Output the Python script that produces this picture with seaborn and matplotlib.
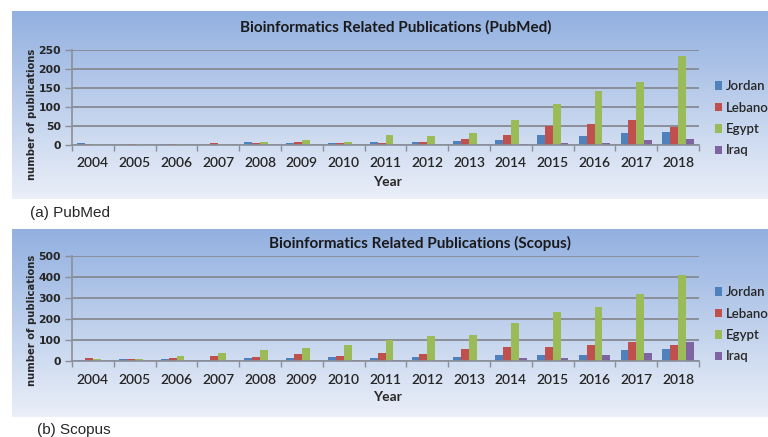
import numpy as np
import pandas as pd
import matplotlib
matplotlib.use("Agg")
import matplotlib.pyplot as plt
import seaborn as sns
from matplotlib.patches import Patch

years = [str(y) for y in range(2004, 2019)]
countries = ["Jordan", "Lebanon", "Egypt", "Iraq"]
colors = ["#4F81BD", "#C0504D", "#9BBB59", "#8064A2"]

pubmed_jordan = [5, 0, 3, 1, 8, 5, 4, 9, 8, 10, 13, 27, 24, 32, 35]
pubmed_lebanon = [3, 3, 3, 5, 4, 8, 4, 6, 8, 16, 27, 50, 55, 66, 48]
pubmed_egypt = [3, 3, 3, 2, 8, 13, 9, 26, 24, 32, 65, 108, 141, 166, 233]
pubmed_iraq = [0, 0, 0, 0, 0, 0, 0, 0, 0, 0, 3, 6, 6, 12, 17]

scopus_jordan = [6, 11, 8, 5, 14, 15, 20, 15, 20, 17, 29, 29, 29, 51, 55]
scopus_lebanon = [14, 11, 14, 22, 20, 34, 25, 37, 34, 55, 66, 68, 74, 92, 77]
scopus_egypt = [8, 11, 22, 37, 52, 63, 77, 100, 118, 123, 181, 232, 255, 317, 410]
scopus_iraq = [0, 0, 0, 0, 2, 2, 7, 7, 2, 2, 15, 16, 28, 37, 89]

pubmed_ticks = [0, 50, 100, 150, 200, 250]
scopus_ticks = [0, 100, 200, 300, 400, 500]


def long_df(series):
    rows = []
    for c, vals in zip(countries, series):
        for y, v in zip(years, vals):
            rows.append({"Year": y, "Country": c, "Count": v})
    return pd.DataFrame(rows)


df_pub = long_df([pubmed_jordan, pubmed_lebanon, pubmed_egypt, pubmed_iraq])
df_sco = long_df([scopus_jordan, scopus_lebanon, scopus_egypt, scopus_iraq])

sns.set_theme(style="white")
FONT = ["Lato", "DejaVu Sans"]
plt.rcParams["font.family"] = FONT

W, H = 768, 437
fig = plt.figure(figsize=(W / 100, H / 100), dpi=100)


def fx(px):
    return px / W


def fy(py):
    return 1 - py / H


# gradient backgrounds
grad = np.linspace(0, 1, 256)[:, None]
top_c = np.array([146, 176, 224]) / 255
bot_c = np.array([234, 239, 248]) / 255
img = top_c[None, None, :] * (1 - grad[:, :, None]) + bot_c[None, None, :] * grad[:, :, None]
img = np.repeat(img, 2, axis=1)

for top in (11, 229):
    bg = fig.add_axes([fx(12), fy(top + 188), fx(768 - 12), 188 / H], zorder=0)
    bg.imshow(img, aspect="auto", extent=[0, 1, 0, 1])
    bg.axis("off")


def draw(df, ax_top, ax_bot, ticks, title, title_x, title_y, year_y, ylab_y):
    ax = fig.add_axes([fx(72), fy(ax_bot), fx(699 - 72), (ax_bot - ax_top) / H], zorder=2)
    ax.patch.set_alpha(0)
    sns.barplot(data=df, x="Year", y="Count", hue="Country", hue_order=countries,
                palette=colors, width=0.75, saturation=1, ax=ax, legend=False,
                edgecolor="none", errorbar=None)
    ax.set_ylim(ticks[0], ticks[-1])
    ax.set_xlim(-0.5, len(years) - 0.5)
    ax.set_yticks(ticks)
    ax.set_yticklabels([str(t) for t in ticks], fontsize=7.8, fontweight="bold",
                       family="DejaVu Sans")
    ax.yaxis.grid(True, color="#8A8F99", linewidth=1.4)
    ax.set_axisbelow(True)
    ax.tick_params(axis="y", length=5, color="#8A8F99", width=1, pad=3, left=True)
    ax.set_xticks(range(len(years)))
    ax.set_xticklabels(years, fontsize=10, fontweight="semibold")
    ax.tick_params(axis="x", length=0, pad=9)
    ax.set_xticks(np.arange(-0.5, len(years) + 0.5, 1), minor=True)
    ax.tick_params(axis="x", which="minor", length=4, color="#8A8F99", width=1, bottom=True)
    for s in ("top", "right"):
        ax.spines[s].set_visible(False)
    for s in ("left", "bottom"):
        ax.spines[s].set_color("#8A8F99")
        ax.spines[s].set_linewidth(1.2)
    ax.set_xlabel("")
    ax.set_ylabel("")
    fig.text(fx(title_x), fy(title_y), title, ha="center", va="center", fontsize=11,
             fontweight="bold", color="#1a1a1a")
    fig.text(fx(387), fy(year_y), "Year", ha="center", va="center", fontsize=10,
             fontweight="bold")
    fig.text(fx(32), fy(ylab_y), "number of publications", rotation=90, ha="center",
             va="center", fontsize=7.2, fontweight="bold", family="DejaVu Sans")
    handles = [Patch(facecolor=c, edgecolor="none") for c in colors]
    fig.legend(handles, countries, loc="upper left",
               bbox_to_anchor=(fx(715), fy(ax_top + 30)), frameon=False,
               prop={"size": 9.5, "weight": "semibold"}, handlelength=0.55,
               handleheight=0.6, handletextpad=0.3, labelspacing=0.72,
               borderpad=0, borderaxespad=0)
    return ax


draw(df_pub, 50, 145, pubmed_ticks, "Bioinformatics Related Publications (PubMed)",
     396, 27, 182, 114)
draw(df_sco, 256, 361, scopus_ticks, "Bioinformatics Related Publications (Scopus)",
     420, 243, 397, 320)

fig.text(fx(30), fy(213), "(a) PubMed", ha="left", va="center", fontsize=11,
         family="Liberation Sans")
fig.text(fx(37), fy(430), "(b) Scopus", ha="left", va="center", fontsize=11,
         family="Liberation Sans")

fig.savefig("out.png", dpi=100)
